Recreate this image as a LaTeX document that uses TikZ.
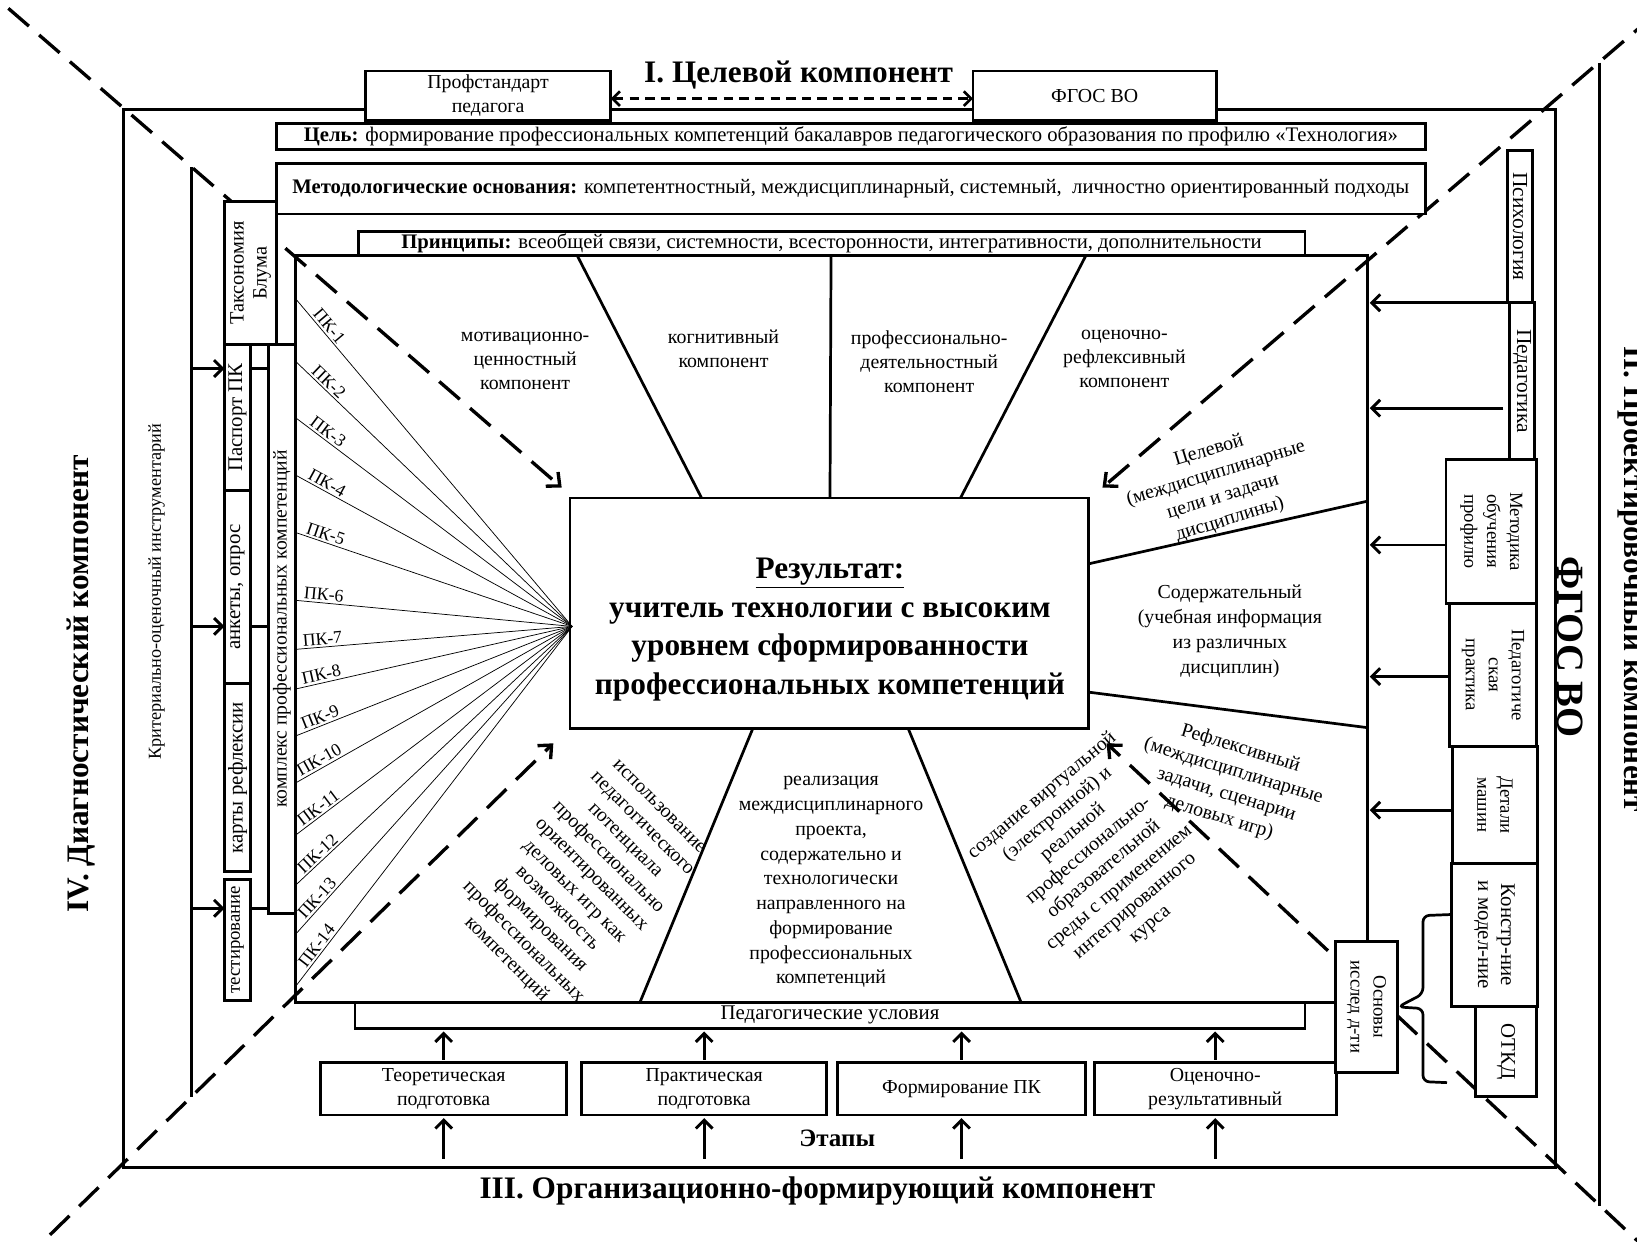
\documentclass[tikz,border=0pt]{standalone}
\usepackage{fontspec}
\setmainfont{Liberation Serif}
\usetikzlibrary{arrows.meta,calc}
\newcommand{\fsN}{\fontsize{19}{23}\selectfont}
\newcommand{\fsB}{\fontsize{19.8}{23}\selectfont}
\newcommand{\fsV}{\fontsize{18}{22}\selectfont}
\newcommand{\fsL}{\fontsize{20}{22}\selectfont}
\newcommand{\fsT}{\fontsize{30}{34}\selectfont\bfseries}
\begin{document}
\begin{tikzpicture}[x=1pt,y=-1pt,
  bx/.style={draw, line width=2.8pt, fill=white, inner sep=0pt, outer sep=0pt, align=center, font=\fsN},
  lbl/.style={inner sep=0pt, align=center, font=\fsN},
  vlbl/.style={inner sep=0pt, align=center, font=\fsV},
  frm/.style={line width=2.8pt},
  qline/.style={line width=2.6pt},
  fanl/.style={line width=0.7pt},
  ddash/.style={line width=3.2pt, dash pattern=on 26pt off 13pt, -{Straight Barb[length=10pt,width=18pt]}},
  arr/.style={line width=2.8pt, -{Straight Barb[length=8pt,width=16pt]}},
  ttl/.style={inner sep=0pt, font=\fsT},
  pk/.style={inner sep=0pt, font=\fontsize{17}{19}\selectfont, sloped, above=2pt, pos=0.1},
]
\path[use as bounding box, fill=white] (0,0) rectangle (1568,1189);

% ---------- dashed diagonals ----------
\coordinate (tlS) at (8,8);       \coordinate (tlE) at (538,467);
\coordinate (trS) at (1585,14);   \coordinate (trE) at (1056,467);
\coordinate (blS) at (20,1210);   \coordinate (blE) at (530,712);
\coordinate (brS) at (1585,1204); \coordinate (brE) at (1060,712);
\draw[ddash] (tlS) -- (tlE);
\draw[ddash] (trS) -- (trE);
\draw[ddash] (blS) -- (blE);
\draw[ddash] (brS) -- (brE);

% ---------- outer frame and long vertical lines ----------
\node[draw, frm, minimum width=1372pt, minimum height=1013pt, inner sep=0pt] (outer) at (804,611.5) {};
\coordinate (cl1) at (183,160); \coordinate (cl2) at (183,1051);
\draw[frm] (cl1) -- (cl2);
\coordinate (cr1) at (1532,60); \coordinate (cr2) at (1532,1155);
\draw[frm] (cr1) -- (cr2);

% ---------- top ----------
\node[bx, minimum width=235pt, minimum height=47pt] (prof) at (467.5,91.5) {Профстандарт\\педагога};
\node[bx, minimum width=233pt, minimum height=47pt] (fgos) at (1048.5,91.5) {ФГОС ВО};
\node[ttl] (t1) at (765,72) {I. Целевой компонент};
\draw[line width=2.5pt, dash pattern=on 9pt off 6pt,
  {Straight Barb[length=7pt,width=14pt]}-{Straight Barb[length=7pt,width=14pt]}]
  ([yshift=-3pt]prof.east) -- ([yshift=-3pt]fgos.west);

\node[bx, font=\fsB, minimum width=1100pt, minimum height=25pt] (goal) at (815,130.5)
  {\textbf{Цель:} формирование профессиональных компетенций бакалавров педагогического образования по профилю «Технология»};
\node[bx, font=\fsB, minimum width=1100pt, minimum height=48pt] (meth) at (815,181)
  {\textbf{Методологические основания:} компетентностный, междисциплинарный, системный,\ \ личностно ориентированный подходы};

% ---------- inner frame ----------
\draw[frm] (1279,960) -- (283,960) -- (283,245) -- (1310,245) -- (1310,902);
\node[bx, font=\fsB, minimum width=907pt, minimum height=23pt] (princ) at (796.5,233.5)
  {\textbf{Принципы:} всеобщей связи, системности, всесторонности,\ интегративности, дополнительности};

% ---------- left boxes ----------
\node[bx, minimum width=50pt, minimum height=137pt] (taks) at (240,261.5) {};
\node[vlbl, font=\fontsize{19.5}{22}\selectfont, rotate=90] at (taks) {Таксономия\\Блума};
\node[bx, minimum width=25pt, minimum height=140pt] (pasp) at (227.5,400) {};
\node[vlbl, font=\fsL, rotate=90] at (pasp) {Паспорт ПК};
\node[bx, minimum width=25pt, minimum height=185pt] (anket) at (227.5,562.5) {};
\node[vlbl, font=\fsL, rotate=90] at (anket) {анкеты, опрос};
\node[bx, minimum width=25pt, minimum height=180pt] (karty) at (227.5,745) {};
\node[vlbl, font=\fsL, rotate=90] at (karty) {карты рефлексии};
\node[bx, minimum width=25pt, minimum height=116pt] (test) at (227.5,900) {};
\node[vlbl, rotate=90] at (test) {тестирование};
\node[bx, minimum width=26pt, minimum height=545pt] (kompl) at (270,602.5) {};
\node[vlbl, font=\fontsize{18.8}{22}\selectfont, rotate=90] at (kompl) {комплекс профессиональных компетенций};

\coordinate (la1) at (183,353); \coordinate (la2) at (183,600); \coordinate (la3) at (183,870);
\draw[arr] (la1) -- (pasp.west |- la1);
\draw[arr] (la2) -- (anket.west |- la2);
\draw[arr] (la3) -- (test.west |- la3);
\draw[frm] (pasp.east |- la1) -- (kompl.west |- la1);
\draw[frm] (anket.east |- la2) -- (kompl.west |- la2);
\draw[frm] (test.east |- la3) -- (kompl.west |- la3);

\node[inner sep=0pt, rotate=90, font=\fontsize{17.5}{20}\selectfont] (crit) at (150,567) {Критериально-оценочный инструментарий};
\node[ttl, rotate=90] (t4) at (78,655) {IV. Диагностический компонент};

% ---------- result ----------
\node[bx, minimum width=497pt, minimum height=221pt] (res) at (794.5,587.5) {};
\node[inner sep=0pt, align=center, font=\fontsize{30}{37}\selectfont\bfseries] (restext) at (795,603)
  {\underline{Результат:}\\учитель технологии с высоким\\уровнем сформированности\\профессиональных компетенций};

% ---------- fan ----------
\coordinate (fanC) at (548,600);
\foreach \y/\n in {286/1,346/2,400/3,455/4,510/5,575/6,622/7,660/8,705/9,750/10,800/11,848/12,895/13,945/14}{
  \coordinate (pk\n) at (283,\y);
  \draw[fanl] (pk\n) -- (fanC) node[pk] {ПК-\n};
}

% ---------- sector lines ----------
\draw[qline] ([xshift=210pt]princ.south west) -- ([xshift=126pt]res.north west);
\draw[qline] ([xshift=453pt]princ.south west) -- ([xshift=249pt]res.north west);
\draw[qline] ([xshift=697pt]princ.south west) -- ([xshift=374pt]res.north west);
\coordinate (rf1) at (1310,480); \coordinate (rf2) at (1310,697);
\draw[qline] ([yshift=-63pt]res.north east) -- (rf1);
\draw[qline] ([yshift=-186pt]res.north east) -- (rf2);
\coordinate (bf1) at (613,960); \coordinate (bf2) at (978,960);
\draw[qline] ([xshift=175pt]res.south west) -- (bf1);
\draw[qline] ([xshift=324pt]res.south west) -- (bf2);

% ---------- sector texts ----------
\node[lbl] (q1) at (503,346) {мотивационно-\\ценностный\\компонент};
\node[lbl] (q2) at (693,334) {когнитивный\\компонент};
\node[lbl] (q3) at (890,346) {профессионально-\\деятельностный\\компонент};
\node[lbl] (q4) at (1077,344) {оценочно-\\рефлексивный\\компонент};
\node[lbl, rotate=17] (q5) at (1168,465) {Целевой\\(междисциплинарные\\цели и задачи\\дисциплины)};
\node[lbl, font=\fontsize{19}{24}\selectfont] (q6) at (1178,605) {Содержательный\\(учебная информация\\из различных\\дисциплин)};
\node[lbl, rotate=-17] (q7) at (1178,750) {Рефлексивный\\(междисциплинарные\\задачи, сценарии\\деловых игр)};
\node[lbl, rotate=-45] (q8) at (557,847) {использование\\педагогического\\потенциала\\профессионально\\ориентированных\\деловых игр как\\возможность\\формирования\\профессиональных\\компетенций};
\node[lbl, font=\fontsize{19}{23.7}\selectfont] (q9) at (796,845) {реализация\\междисциплинарного\\проекта,\\содержательно и\\технологически\\направленного на\\формирование\\профессиональных\\компетенций};
\node[lbl, rotate=40] (q10) at (1050,824) {создание виртуальной\\(электронной) и\\реальной\\профессионально-\\образовательной\\среды с применением\\интегрированного\\курса};

% ---------- right boxes ----------
\node[bx, minimum width=24pt, minimum height=146pt] (psych) at (1456,217) {};
\node[vlbl, font=\fontsize{20.5}{22}\selectfont, rotate=-90] at (psych) {Психология};
\node[bx, minimum width=24pt, minimum height=150pt] (ped) at (1458,365) {};
\node[vlbl, font=\fontsize{20.5}{22}\selectfont, rotate=-90] at (ped) {Педагогика};
\node[bx, minimum width=87pt, minimum height=138pt] (metod) at (1428.5,509) {};
\node[vlbl, rotate=-90] at (metod) {Методика\\обучения\\профилю};
\node[bx, minimum width=84pt, minimum height=137pt] (pract) at (1430,646.5) {};
\node[vlbl, rotate=-90] at (pract) {Педагогиче\\ская\\практика};
\node[bx, minimum width=82pt, minimum height=112pt] (detali) at (1432,771) {};
\node[vlbl, rotate=-90] at (detali) {Детали\\машин};
\node[bx, minimum width=59pt, minimum height=86pt] (otkd) at (1442.5,1007) {};
\node[vlbl, font=\fsL, rotate=-90] at (otkd) {ОТКД};
\node[bx, minimum width=83pt, minimum height=137pt] (konstr) at (1431.5,895.5) {};
\node[vlbl, font=\fsL, rotate=-90] at (konstr) {Констр-ние\\и модел-ние};

\coordinate (r1) at (1312,290); \coordinate (r2) at (1312,391); \coordinate (r3) at (1312,522);
\coordinate (r4) at (1312,648); \coordinate (r5) at (1312,776);
\draw[arr] (psych.west |- r1) -- (r1);
\draw[arr] ([xshift=-6pt]ped.west |- r2) -- (r2);
\draw[arr] (metod.west |- r3) -- (r3);
\draw[arr] (pract.west |- r4) -- (r4);
\draw[arr] (detali.west |- r5) -- (r5);

\node[inner sep=0pt, font=\fontsize{37}{40}\selectfont\bfseries, rotate=-90, anchor=base] (fgosv) at (1492,620) {ФГОС ВО};
\node[ttl, rotate=-90] (t2) at (1563,555) {II. Проектировочный компонент};

% ---------- bottom ----------
\node[bx, font=\fontsize{20}{23}\selectfont, minimum width=910pt, minimum height=25pt] (usl) at (795,972.5) {Педагогические условия};
\node[bx, minimum width=236pt, minimum height=50pt] (st1) at (425,1043) {Теоретическая\\подготовка};
\node[bx, minimum width=235pt, minimum height=50pt] (st2) at (674.5,1043) {Практическая\\подготовка};
\node[bx, minimum width=238pt, minimum height=50pt] (st3) at (921,1043) {Формирование ПК};
\node[bx, minimum width=232pt, minimum height=50pt] (st4) at (1164,1043) {Оценочно-\\результативный};
\node[bx, minimum width=60pt, minimum height=125pt] (osnovy) at (1309,964.5) {};
\node[vlbl, rotate=-90] at (osnovy) {Основы\\исслед д-ти};

\foreach \s in {st1,st2,st3,st4}{
  \draw[arr, shorten <=3pt, shorten >=3pt] (\s.north) -- (\s.north |- usl.south);
  \coordinate (b\s) at ($(\s.south)+(0,42)$);
  \draw[arr, shorten >=3pt] (b\s) -- (\s.south);
}
\node[inner sep=0pt, font=\fontsize{24}{26}\selectfont\bfseries] (etap) at (802,1090) {Этапы};
\node[ttl] (t3) at (783,1141) {III. Организационно-формирующий компонент};

% brace
\coordinate (brT) at (1389,876); \coordinate (brB) at (1386,1037);
\draw[line width=2.6pt, rounded corners=6pt] (brT) -- (1363,877) -- (1363,952) -- (osnovy.east) -- (1363,966) -- (1363,1036) -- (brB);
\end{tikzpicture}
\end{document}
